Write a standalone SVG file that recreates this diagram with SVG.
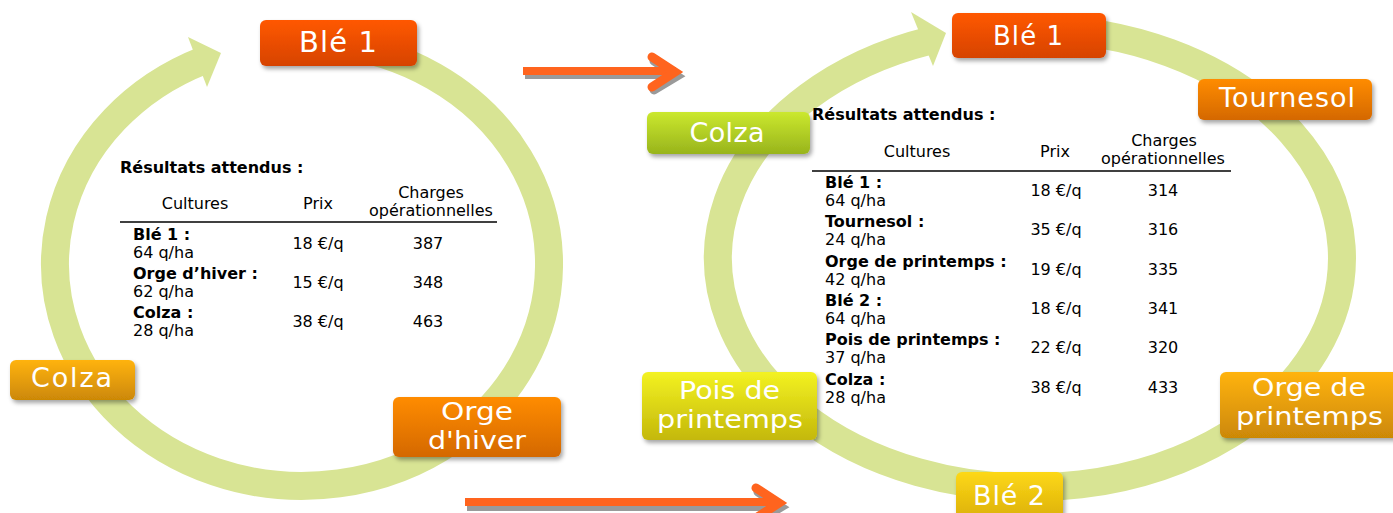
<svg xmlns="http://www.w3.org/2000/svg" width="1393" height="513" viewBox="0 0 1393 513">
<style>
.t{font-family:"DejaVu Sans",Verdana,sans-serif;font-size:16px;fill:#000}
.b{font-weight:bold}
.m{text-anchor:middle}
.lbl{font-family:"DejaVu Sans",Verdana,sans-serif;fill:#fff;text-anchor:middle}
.two{font-size:24px;lengthAdjust:spacingAndGlyphs}
.ring{fill:none;stroke:#D8E494;stroke-width:28}
.head{fill:#D8E494}
.arr{fill:none;stroke:#FF641E;stroke-width:8}
.arrh{fill:none;stroke:#FF641E;stroke-width:9;stroke-linecap:round;stroke-linejoin:miter}
.arrs{fill:none;stroke:#9A9A9A;stroke-width:8}
.arrsh{fill:none;stroke:#9A9A9A;stroke-width:9;stroke-linecap:round}
.rule{stroke:#000;stroke-width:1.5}
</style>
<defs>
<filter id="sh" x="-10%" y="-15%" width="130%" height="150%">
<feDropShadow dx="2" dy="3" stdDeviation="2" flood-color="#000" flood-opacity="0.35"/>
</filter>
<linearGradient id="gRed" x1="0" y1="0" x2="0" y2="1"><stop offset="0" stop-color="#FF5800"/><stop offset="1" stop-color="#D64300"/></linearGradient>
<linearGradient id="gGold" x1="0" y1="0" x2="0" y2="1"><stop offset="0" stop-color="#FFB310"/><stop offset="1" stop-color="#CC8806"/></linearGradient>
<linearGradient id="gOrange" x1="0" y1="0" x2="0" y2="1"><stop offset="0" stop-color="#FF8C00"/><stop offset="1" stop-color="#D46800"/></linearGradient>
<linearGradient id="gGreen" x1="0" y1="0" x2="0" y2="1"><stop offset="0" stop-color="#CBE82E"/><stop offset="1" stop-color="#98B41C"/></linearGradient>
<linearGradient id="gYellow" x1="0" y1="0" x2="0" y2="1"><stop offset="0" stop-color="#F3F222"/><stop offset="1" stop-color="#C4B80A"/></linearGradient>
<linearGradient id="gBle2" x1="0" y1="0" x2="0" y2="1"><stop offset="0" stop-color="#FDD816"/><stop offset="1" stop-color="#DAAE0A"/></linearGradient>
</defs>

<g id="connectors">
  <path class="ring" d="M 330 43.4 A 247 222 0 1 1 203 60.6"/>
  <polygon class="head" points="188,37 221,53 207,87"/>
  <path class="ring" d="M 1030 28.5 A 312 229.5 0 1 1 930 40.6"/>
  <polygon class="head" points="911,12 946,33 933,66"/>
  <g id="arrow-top">
    <line class="arrs" x1="525" y1="75" x2="676" y2="75"/>
    <polyline class="arrsh" points="654,61 677,76 654,90"/>
    <line class="arr" x1="523" y1="71" x2="676" y2="71"/>
    <polyline class="arrh" points="652,57 675,72 652,87"/>
  </g>
  <g id="arrow-bottom">
    <line class="arrs" x1="467" y1="507" x2="780" y2="507"/>
    <polyline class="arrsh" points="758,492 781,507 758,521"/>
    <line class="arr" x1="465" y1="502" x2="779" y2="502"/>
    <polyline class="arrh" points="756,488 779,503 756,518"/>
  </g>
</g>

<g id="table-left">
  <text class="t b" x="120" y="173">Résultats attendus :</text>
  <text class="t m" x="195" y="209">Cultures</text>
  <text class="t m" x="318" y="209">Prix</text>
  <text class="t m" x="431" y="198">Charges</text>
  <text class="t m" x="431" y="216">opérationnelles</text>
  <line class="rule" x1="120" y1="222" x2="497" y2="222"/>
  <text class="t b" x="133" y="240">Blé 1 :</text>
  <text class="t" x="133" y="258">64 q/ha</text>
  <text class="t m" x="318" y="249">18 €/q</text>
  <text class="t m" x="428" y="249">387</text>
  <text class="t b" x="133" y="279">Orge d’hiver :</text>
  <text class="t" x="133" y="297">62 q/ha</text>
  <text class="t m" x="318" y="288">15 €/q</text>
  <text class="t m" x="428" y="288">348</text>
  <text class="t b" x="133" y="318">Colza :</text>
  <text class="t" x="133" y="336">28 q/ha</text>
  <text class="t m" x="318" y="327">38 €/q</text>
  <text class="t m" x="428" y="327">463</text>
</g>

<g id="table-right">
  <text class="t b" x="812" y="120">Résultats attendus :</text>
  <text class="t m" x="917" y="157">Cultures</text>
  <text class="t m" x="1055" y="157">Prix</text>
  <text class="t m" x="1164" y="146">Charges</text>
  <text class="t m" x="1163" y="164">opérationnelles</text>
  <line class="rule" x1="812" y1="171" x2="1231" y2="171"/>
  <text class="t b" x="825" y="188">Blé 1 :</text>
  <text class="t" x="825" y="206">64 q/ha</text>
  <text class="t m" x="1056" y="196">18 €/q</text>
  <text class="t m" x="1163" y="196">314</text>
  <text class="t b" x="825" y="227">Tournesol :</text>
  <text class="t" x="825" y="245">24 q/ha</text>
  <text class="t m" x="1056" y="235">35 €/q</text>
  <text class="t m" x="1163" y="235">316</text>
  <text class="t b" x="825" y="266.5">Orge de printemps :</text>
  <text class="t" x="825" y="284.5">42 q/ha</text>
  <text class="t m" x="1056" y="274.5">19 €/q</text>
  <text class="t m" x="1163" y="274.5">335</text>
  <text class="t b" x="825" y="306">Blé 2 :</text>
  <text class="t" x="825" y="324">64 q/ha</text>
  <text class="t m" x="1056" y="314">18 €/q</text>
  <text class="t m" x="1163" y="314">341</text>
  <text class="t b" x="825" y="345">Pois de printemps :</text>
  <text class="t" x="825" y="363">37 q/ha</text>
  <text class="t m" x="1056" y="353">22 €/q</text>
  <text class="t m" x="1163" y="353">320</text>
  <text class="t b" x="825" y="384.5">Colza :</text>
  <text class="t" x="825" y="402.5">28 q/ha</text>
  <text class="t m" x="1056" y="392.5">38 €/q</text>
  <text class="t m" x="1163" y="392.5">433</text>
</g>

<g id="node-left-ble1">
  <rect x="260" y="20" width="157" height="46" rx="6" fill="url(#gRed)" filter="url(#sh)"/>
  <text class="lbl" x="338" y="52" font-size="29" textLength="78">Blé 1</text>
</g>
<g id="node-left-colza">
  <rect x="10" y="360" width="125" height="40" rx="6" fill="url(#gGold)" filter="url(#sh)"/>
  <text class="lbl" x="71.5" y="387" font-size="27" textLength="81">Colza</text>
</g>
<g id="node-left-orge-hiver">
  <rect x="393" y="397" width="168" height="60" rx="6" fill="url(#gOrange)" filter="url(#sh)"/>
  <text class="lbl two" x="477" y="420" textLength="72" lengthAdjust="spacingAndGlyphs">Orge</text>
  <text class="lbl two" x="477" y="449" textLength="98" lengthAdjust="spacingAndGlyphs">d'hiver</text>
</g>

<g id="node-right-ble1">
  <rect x="952" y="13" width="154" height="45" rx="6" fill="url(#gRed)" filter="url(#sh)"/>
  <text class="lbl" x="1028" y="45" font-size="26" textLength="70">Blé 1</text>
</g>
<g id="node-right-tournesol">
  <rect x="1198" y="79" width="174" height="41" rx="6" fill="url(#gOrange)" filter="url(#sh)"/>
  <text class="lbl" x="1287" y="107" font-size="27" textLength="136">Tournesol</text>
</g>
<g id="node-right-orge-printemps">
  <rect x="1220" y="372" width="180" height="66" rx="6" fill="url(#gGold)" filter="url(#sh)"/>
  <text class="lbl two" x="1309" y="396" textLength="114" lengthAdjust="spacingAndGlyphs">Orge de</text>
  <text class="lbl two" x="1309.5" y="425" textLength="147" lengthAdjust="spacingAndGlyphs">printemps</text>
</g>
<g id="node-right-ble2">
  <rect x="956" y="472" width="107" height="50" rx="6" fill="url(#gBle2)" filter="url(#sh)"/>
  <text class="lbl" x="1009" y="505" font-size="27" textLength="72">Blé 2</text>
</g>
<g id="node-right-pois">
  <rect x="642" y="372" width="175" height="68" rx="6" fill="url(#gYellow)" filter="url(#sh)"/>
  <text class="lbl two" x="729.5" y="399" textLength="101" lengthAdjust="spacingAndGlyphs">Pois de</text>
  <text class="lbl two" x="730" y="428" textLength="146" lengthAdjust="spacingAndGlyphs">printemps</text>
</g>
<g id="node-right-colza">
  <rect x="647" y="112" width="163" height="42" rx="6" fill="url(#gGreen)" filter="url(#sh)"/>
  <text class="lbl" x="727" y="142" font-size="27" textLength="75">Colza</text>
</g>
</svg>
